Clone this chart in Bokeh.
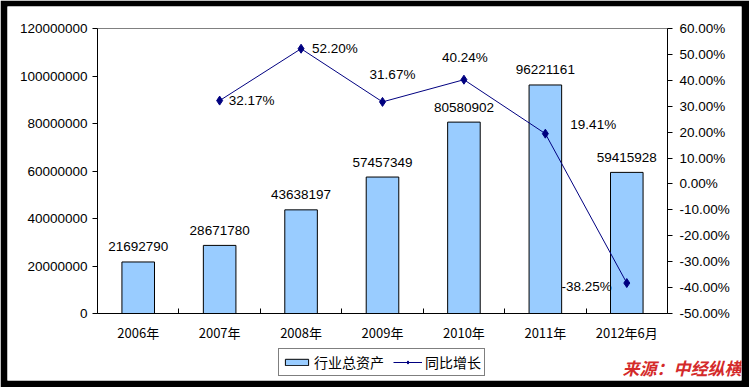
from bokeh.plotting import figure
from bokeh.models import (ColumnDataSource, Range1d, LinearAxis, FixedTicker,
                          NumeralTickFormatter, Legend, LegendItem, Label)
from bokeh.core.properties import value
from bokeh.embed import file_html
from bokeh.resources import INLINE

categories = ["2006年", "2007年", "2008年", "2009年", "2010年", "2011年", "2012年6月"]
assets = [21692790, 28671780, 43638197, 57457349, 80580902, 96221161, 59415928]
growth_cats = ["2007年", "2008年", "2009年", "2010年", "2011年", "2012年6月"]
growth = [32.17, 52.20, 31.67, 40.24, 19.41, -38.25]
left_ticks = [0, 20000000, 40000000, 60000000, 80000000, 100000000, 120000000]
right_ticks = [-50, -40, -30, -20, -10, 0, 10, 20, 30, 40, 50, 60]

# label placement (screen pixel offsets) for growth labels
g_xoff = [9, 11, 10, 1, 25, -15]
g_yoff = [0, 0, -27, -22, -9, 3]
g_align = ["left", "left", "center", "center", "left", "right"]

FONT = "Liberation Sans, Arial, sans-serif"
CJK = "Noto Sans CJK SC"

# layout in pixels
W, H = 749, 387
B_L, B_R, B_T, B_B = 7, 8, 6, 7           # black frame
AX_L, AX_R, AX_T, AX_B = 97, 667, 28, 313  # axes box in page pixels

n = len(categories)
y_max = left_ticks[-1]
p_lo, p_hi = right_ticks[0] / 100.0, right_ticks[-1] / 100.0

upx = n / (AX_R - AX_L)
vpx = y_max / (AX_B - AX_T)
ppx = (p_hi - p_lo) / (AX_B - AX_T)
x_rng = Range1d(-(AX_L - B_L) * upx, n + (W - B_R - AX_R) * upx)
y_rng = Range1d(-(H - B_B - AX_B) * vpx, y_max + (AX_T - B_T) * vpx)
p_rng = Range1d(p_lo - (H - B_B - AX_B) * ppx, p_hi + (AX_T - B_T) * ppx)

xc = [i + 0.5 for i in range(n)]
gx = [categories.index(c) + 0.5 for c in growth_cats]
gfrac = [g / 100.0 for g in growth]

p = figure(width=W, height=H, output_backend="svg", toolbar_location=None,
           x_range=x_rng, y_range=y_rng,
           min_border_left=B_L, min_border_right=B_R, min_border_top=B_T, min_border_bottom=B_B)
p.extra_y_ranges = {"pct": p_rng}
p.grid.visible = False
p.outline_line_color = None
p.background_fill_color = "white"
p.border_fill_color = "black"

# top gray border of the plot box
p.segment(x0=[0], y0=[y_max], x1=[n], y1=[y_max], line_color="#808080", line_width=1)

# x axis: labels at centres, ticks at boundaries (minor)
xa = p.xaxis[0]
xa.fixed_location = 0
xa.bounds = (0, n)
xa.ticker = FixedTicker(ticks=xc, minor_ticks=list(range(n + 1)))
xa.major_label_overrides = {x: c for x, c in zip(xc, categories)}
xa.major_tick_in = 0
xa.major_tick_out = 0
xa.minor_tick_in = 5
xa.minor_tick_out = 0
xa.minor_tick_line_color = "black"
xa.axis_line_color = "black"
xa.major_label_text_font = CJK
xa.major_label_text_font_size = "13px"
xa.major_label_text_color = "black"
xa.major_label_standoff = 9

ya = p.yaxis[0]
ya.fixed_location = 0
ya.bounds = (0, y_max)
ya.ticker = FixedTicker(ticks=left_ticks, minor_ticks=[])
ya.formatter = NumeralTickFormatter(format="0")
ya.major_tick_in = 0
ya.major_tick_out = 5
ya.axis_line_color = "black"
ya.major_tick_line_color = "black"
ya.major_label_text_font = FONT
ya.major_label_text_font_size = "13.5px"
ya.major_label_text_color = "black"
ya.major_label_standoff = 5

ra = LinearAxis(y_range_name="pct", fixed_location=n, bounds=(p_lo, p_hi),
                ticker=FixedTicker(ticks=[t / 100.0 for t in right_ticks], minor_ticks=[]),
                formatter=NumeralTickFormatter(format="0.00%"))
ra.major_tick_in = 0
ra.major_tick_out = 5
ra.axis_line_color = "black"
ra.major_tick_line_color = "black"
ra.major_label_text_font = FONT
ra.major_label_text_font_size = "13.5px"
ra.major_label_text_color = "black"
ra.major_label_standoff = 7
p.add_layout(ra, "right")

bar_src = ColumnDataSource(dict(x=xc, v=assets, lab=[str(a) for a in assets]))
bars = p.vbar(x="x", top="v", width=0.4, source=bar_src,
              fill_color="#99CCFF", line_color="black", line_width=1)
p.text(x="x", y="v", text="lab", source=bar_src, text_align="center",
       text_baseline="middle", y_offset=-15, text_font=value(FONT),
       text_font_size="13.5px", text_color="black")

g_src = ColumnDataSource(dict(x=gx, g=gfrac, lab=["%.2f%%" % g for g in growth],
                              xo=g_xoff, yo=g_yoff, al=g_align))
ln = p.line(x="x", y="g", source=g_src, y_range_name="pct", line_color="#000080", line_width=1)
mk = p.scatter(x="x", y="g", source=g_src, y_range_name="pct", marker="diamond",
               size=9, fill_color="#000080", line_color="#000080")
p.text(x="x", y="g", text="lab", source=g_src, y_range_name="pct",
       x_offset="xo", y_offset="yo", text_align="al", text_baseline="middle",
       text_font=value(FONT), text_font_size="13.5px", text_color="black")

legend = Legend(items=[LegendItem(label="行业总资产", renderers=[bars]),
                       LegendItem(label="同比增长", renderers=[ln, mk])],
                orientation="horizontal", location=(278 - B_L, H - B_B - 376))
legend.label_text_font = CJK
legend.label_text_font_size = "14px"
legend.label_text_color = "black"
legend.glyph_width = 29
legend.glyph_height = 8
legend.label_height = 15
legend.padding = 3
legend.spacing = 9
legend.label_standoff = 3
legend.margin = 0
legend.border_line_color = "black"
legend.border_line_width = 1
legend.background_fill_alpha = 1
p.add_layout(legend, "center")

src_lbl = Label(x=n, y=0, x_offset=74, y_offset=-66, text="来源：中经纵横",
                text_align="right", text_baseline="bottom", text_font=CJK,
                text_font_size="17px", text_font_style="bold italic",
                text_color="#D42A2A")
p.add_layout(src_lbl)

open("out.html", "w").write(file_html(p, INLINE))
